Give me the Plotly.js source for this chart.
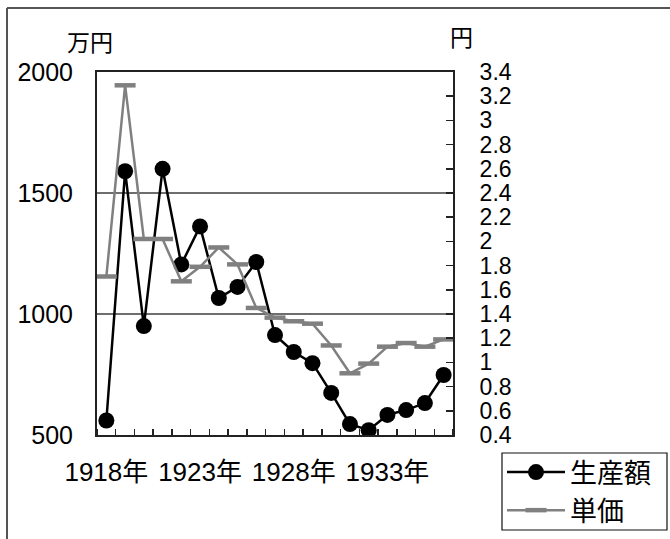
<!DOCTYPE html>
<html><head><meta charset="utf-8">
<script src="https://cdn.plot.ly/plotly-3.0.1.min.js"></script>
<style>html,body{margin:0;padding:0;background:#fff}#chart{width:670px;height:539px}</style>
</head><body><div id="chart"></div>
<script>
const years = [1918,1919,1920,1921,1922,1923,1924,1925,1926,1927,1928,1929,1930,1931,1932,1933,1934,1935,1936];
const production = [560,1590,950,1600,1205,1362,1066,1112,1215,913,843,797,674,545,520,583,603,632,748];
const unitPrice = [1.71,3.29,2.02,2.02,1.67,1.79,1.95,1.81,1.45,1.37,1.34,1.32,1.14,0.91,0.99,1.13,1.16,1.13,1.19];
const xTickVals = [1918,1923,1928,1933];
const xTickText = ['1918年','1923年','1928年','1933年'];
const leftTicks = [500,1000,1500,2000];
const rightTicks = [0.4,0.6,0.8,1,1.2,1.4,1.6,1.8,2,2.2,2.4,2.6,2.8,3,3.2,3.4];
const seriesNames = ['生産額','単価'];

const FONT = 'Liberation Sans, Arial, Noto Sans CJK JP, sans-serif';

const traces = [
  {x: years, y: production, name: seriesNames[0], type: 'scatter', mode: 'lines+markers',
   line: {color: '#000', width: 2.5}, marker: {symbol: 'circle', size: 16, color: '#000'}, yaxis: 'y'},
  {x: years, y: unitPrice, name: seriesNames[1], type: 'scatter', mode: 'lines+markers',
   line: {color: '#808080', width: 2.5},
   marker: {symbol: 'line-ew', size: 15, color: '#808080', line: {color: '#808080', width: 4.5}}, yaxis: 'y2'}
];

const px = v => (v - 97) / 356;
const py = v => (435 - v) / 363;

const layout = {
  width: 670, height: 539,
  margin: {l: 97, r: 217, t: 72, b: 104, autoexpand: false},
  paper_bgcolor: '#fff', plot_bgcolor: '#fff',
  font: {family: FONT, color: '#000', size: 22},
  showlegend: true,
  xaxis: {
    range: [1917.5, 1936.5], tickvals: xTickVals, ticktext: xTickText, ticks: '',
    showgrid: false, zeroline: false, showline: true, mirror: true, linecolor: '#222', linewidth: 2,
    tickfont: {size: 26, family: FONT}, ticklabelstandoff: 13,
    minor: {tick0: 1917.5, dtick: 1, ticks: 'inside', ticklen: 6, tickcolor: '#222', tickwidth: 1.5, showgrid: false}
  },
  yaxis: {
    range: [500, 2000], tickvals: leftTicks, ticks: '', showgrid: true, gridcolor: '#6e6e6e', gridwidth: 1.2,
    zeroline: false, showline: true, mirror: true, linecolor: '#222', linewidth: 2,
    tickfont: {size: 25, family: FONT}, ticklabelstandoff: 17
  },
  yaxis2: {
    range: [0.4, 3.4], tickvals: rightTicks, overlaying: 'y', side: 'right', ticks: 'inside', ticklen: 7,
    tickcolor: '#222', tickwidth: 1.5, showgrid: false, zeroline: false, showline: true, linecolor: '#222', linewidth: 2,
    tickfont: {size: 23, family: FONT}, ticklabelstandoff: 20
  },
  legend: {
    x: px(502), y: py(448), xanchor: 'left', yanchor: 'top', xref: 'paper', yref: 'paper',
    bgcolor: 'rgba(0,0,0,0)', borderwidth: 0, itemwidth: 58,
    font: {size: 27, family: 'Noto Sans CJK JP, sans-serif'}, tracegroupgap: 0
  },
  annotations: [
    {text: '万円', xref: 'paper', yref: 'paper', x: px(90), y: py(41), showarrow: false,
     xanchor: 'center', yanchor: 'middle', font: {size: 23, family: 'Noto Sans CJK JP, sans-serif'}},
    {text: '円', xref: 'paper', yref: 'paper', x: px(462), y: py(36), showarrow: false,
     xanchor: 'center', yanchor: 'middle', font: {size: 23, family: 'Noto Sans CJK JP, sans-serif'}}
  ],
  shapes: [
    {type: 'line', xref: 'paper', yref: 'paper', x0: px(7), x1: px(672), y0: py(8), y1: py(8),
     line: {color: '#555', width: 2}},
    {type: 'line', xref: 'paper', yref: 'paper', x0: px(7), x1: px(7), y0: py(8), y1: py(545),
     line: {color: '#555', width: 2}},
    {type: 'rect', xref: 'paper', yref: 'paper', x0: px(502), x1: px(667), y0: py(453), y1: py(530),
     fillcolor: '#fff', line: {color: '#111', width: 1.2}, layer: 'above'}
  ]
};

Plotly.newPlot('chart', traces, layout, {displayModeBar: false, staticPlot: true});
</script></body></html>
